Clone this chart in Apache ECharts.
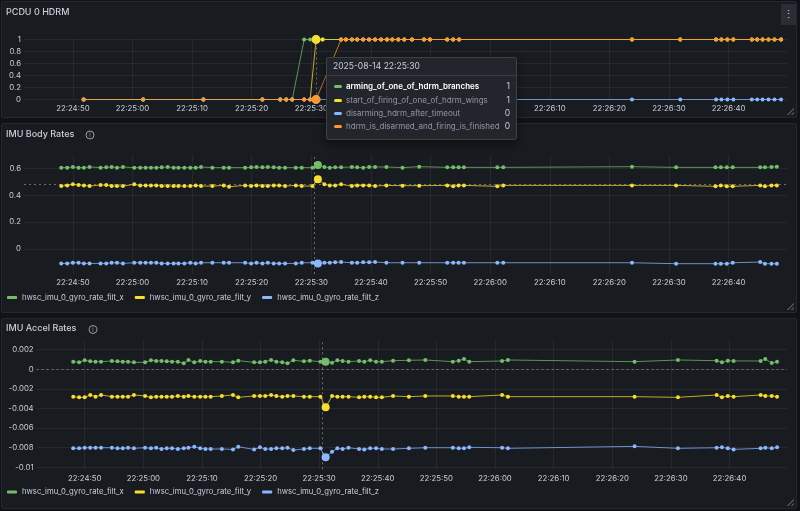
<!DOCTYPE html>
<html>
<head>
<meta charset="utf-8">
<title>PCDU 0 HDRM / IMU rates</title>
<script src="https://cdn.jsdelivr.net/npm/echarts@6/dist/echarts.min.js"></script>
<style>
  html, body { margin: 0; padding: 0; background: #111217; }
  #wrap { position: relative; width: 800px; height: 511px; overflow: hidden; font-family: Inter, sans-serif; }
  .panel { position: absolute; left: 1px; width: 796px; background: #181b1f; border: 1px solid #25282e; border-radius: 2px; box-sizing: border-box; }
  #p1 { top: 1px; height: 117px; }
  #p2 { top: 123px; height: 190px; }
  #p3 { top: 318px; height: 191px; }
  .menu { position: absolute; right: 0; top: 2px; width: 15px; height: 21px; background: #2a2d33; color: #ccccdc; font-size: 11px; line-height: 21px; text-align: center; }
  .grip { position: absolute; right: 2px; bottom: 2px; width: 7px; height: 7px;
    background: linear-gradient(135deg, transparent 48%, #4a4d55 48%, #4a4d55 58%, transparent 58%, transparent 76%, #4a4d55 76%, #4a4d55 86%, transparent 86%); }
  #chart { position: absolute; left: 0; top: 0; width: 800px; height: 511px; }
</style>
</head>
<body>
<div id="wrap">
  <div class="panel" id="p1"><div class="menu">&#8942;</div><div class="grip"></div></div>
  <div class="panel" id="p2"><div class="grip"></div></div>
  <div class="panel" id="p3"><div class="grip"></div></div>
  <div id="chart"></div>
</div>
<script>
// time is stored as seconds after 2025-08-14 22:24:50
var baseTime = new Date(2025, 7, 14, 22, 24, 50).getTime();
var axisStart = -8.2;
var axisEnd = 119.8;

// PCDU 0 HDRM states
var hdrmNames = ['arming_of_one_of_hdrm_branches', 'start_of_firing_of_one_of_hdrm_wings',
  'disarming_hdrm_after_timeout', 'hdrm_is_disarmed_and_firing_is_finished'];
var hdrmTimes = [1.8, 11.8, 21.9, 31.8, 34.8, 35.8, 36.8, 38.8, 39.8, 40.8, 41.9,
  45.0, 45.8, 46.8, 47.7, 48.7, 49.7, 50.7, 51.7, 52.7, 53.6, 54.6, 55.6, 56.9, 58.9, 59.9,
  62.8, 63.8, 64.8, 93.8, 101.9, 107.9, 108.8, 109.8, 110.8, 113.9, 114.8, 115.7, 116.7, 117.7, 118.8];
var armingBranches = [0, 0, 0, 0, 0, 0, 0, 1, 1, 1, 1,
  1, 1, 1, 1, 1, 1, 1, 1, 1, 1, 1, 1, 1, 1, 1,
  1, 1, 1, 1, 1, 1, 1, 1, 1, 1, 1, 1, 1, 1, 1];
var startFiring = [0, 0, 0, 0, 0, 0, 0, 0, 0, 1, 1,
  1, 1, 1, 1, 1, 1, 1, 1, 1, 1, 1, 1, 1, 1, 1,
  1, 1, 1, 1, 1, 1, 1, 1, 1, 1, 1, 1, 1, 1, 1];
var disarmingTimeout = [0, 0, 0, 0, 0, 0, 0, 0, 0, 0, null,
  0, 0, 0, 0, 0, 0, 0, 0, 0, 0, 0, 0, 0, 0, 0,
  0, 0, 0, 0, 0, 0, 0, 0, 0, 0, 0, 0, 0, 0, 0];
var disarmedFinished = [0, 0, 0, 0, 0, 0, 0, 0, 0, 0, null,
  1, 1, 1, 1, 1, 1, 1, 1, 1, 1, 1, 1, 1, 1, 1,
  1, 1, 1, 1, 1, 1, 1, 1, 1, 1, 1, 1, 1, 1, 1];
var hdrmHover = 9;
var hdrmFocus = 0;

// IMU samples
var imuNames = ['hwsc_imu_0_gyro_rate_filt_x', 'hwsc_imu_0_gyro_rate_filt_y', 'hwsc_imu_0_gyro_rate_filt_z'];
var imuTimes = [-1.95, -0.95, 0, 0.95, 1.85, 2.8, 4.64, 5.6, 6.5, 7.4, 8.4,
  10.3, 11.3, 12.2, 13.1, 14.0, 14.9, 15.9, 16.9, 17.7, 18.7, 19.7, 20.6, 21.5,
  23.4, 25.3, 26.2, 28.9, 29.9, 30.8, 31.8, 32.7, 33.7, 34.6, 35.6, 37.4, 38.4,
  40.2, 41.1, 42.2, 43.1, 44.0, 45.0, 46.8, 47.7, 48.7, 49.7, 50.7, 52.6,
  55.3, 58.1, 62.8, 63.8, 64.7, 65.6, 71.2, 72.2, 93.8, 101.2,
  107.8, 108.7, 109.7, 110.7, 115.3, 116.1, 117.2, 118.1];
var imuHover = 38;
var crossTime = 40.5;

var bodyRateX = [0.605, 0.605, 0.610, 0.605, 0.605, 0.610, 0.605, 0.607, 0.610, 0.605, 0.610,
  0.605, 0.605, 0.605, 0.605, 0.605, 0.607, 0.610, 0.605, 0.605, 0.605, 0.605, 0.605, 0.610,
  0.605, 0.605, 0.605, 0.605, 0.607, 0.610, 0.607, 0.610, 0.607, 0.605, 0.605, 0.605, 0.605,
  0.605, 0.625, 0.610, 0.605, 0.607, 0.607, 0.610, 0.607, 0.605, 0.610, 0.610, 0.610,
  0.605, 0.612, 0.607, 0.607, 0.607, 0.607, 0.607, 0.607, 0.612, 0.607,
  0.607, 0.607, 0.607, 0.607, 0.607, 0.607, 0.610, 0.612];
var bodyRateY = [0.468, 0.473, 0.481, 0.476, 0.473, 0.468, 0.476, 0.476, 0.468, 0.468, 0.468,
  0.481, 0.473, 0.473, 0.473, 0.473, 0.468, 0.468, 0.468, 0.468, 0.468, 0.468, 0.473, 0.468,
  0.468, 0.473, 0.463, 0.473, 0.468, 0.473, 0.468, 0.468, 0.473, 0.473, 0.468, 0.473, 0.468,
  0.468, 0.518, 0.481, 0.473, 0.473, 0.481, 0.468, 0.473, 0.473, 0.473, 0.468, 0.473,
  0.471, 0.471, 0.473, 0.466, 0.473, 0.473, 0.466, 0.473, 0.473, 0.473,
  0.466, 0.473, 0.466, 0.466, 0.473, 0.466, 0.473, 0.473];
var bodyRateZ = [-0.107, -0.107, -0.102, -0.102, -0.107, -0.107, -0.107, -0.107, -0.102, -0.102, -0.107,
  -0.102, -0.102, -0.102, -0.102, -0.102, -0.107, -0.107, -0.107, -0.107, -0.107, -0.102, -0.107, -0.102,
  -0.102, -0.102, -0.102, -0.102, -0.107, -0.102, -0.107, -0.102, -0.107, -0.107, -0.107, -0.107, -0.102,
  -0.102, -0.107, -0.102, -0.102, -0.099, -0.097, -0.102, -0.102, -0.099, -0.099, -0.097, -0.102,
  -0.102, -0.102, -0.102, -0.102, -0.102, -0.102, -0.102, -0.102, -0.102, -0.109,
  -0.109, -0.109, -0.109, -0.102, -0.097, -0.109, -0.109, -0.109];
var bodyCrossY = 0.476;

var accelRateX = [0.00078, 0.00071, 0.00092, 0.00081, 0.00078, 0.00078, 0.00085, 0.00081, 0.00078, 0.00078, 0.00071,
  0.00071, 0.00092, 0.00085, 0.00085, 0.00081, 0.00078, 0.00078, 0.00061, 0.00095, 0.00071, 0.00085, 0.00078, 0.00078,
  0.00078, 0.00071, 0.00088, 0.00071, 0.00071, 0.00078, 0.00095, 0.00078, 0.00071, 0.00061, 0.00092, 0.00081, 0.00088,
  0.00078, 0.00078, 0.00068, 0.00092, 0.00085, 0.00078, 0.00085, 0.00078, 0.00092, 0.00078, 0.00078, 0.00088,
  0.00092, 0.00095, 0.00078, 0.00088, 0.00105, 0.00078, 0.00085, 0.00095, 0.00078, 0.00095,
  0.00088, 0.00071, 0.00088, 0.00085, 0.00085, 0.00105, 0.00064, 0.00078];
var accelRateY = [-0.00279, -0.00286, -0.00286, -0.00262, -0.00279, -0.00262, -0.00279, -0.00279, -0.00279, -0.00279, -0.00262,
  -0.00272, -0.00286, -0.00279, -0.00279, -0.00279, -0.00279, -0.00272, -0.00279, -0.00272, -0.00279, -0.00279, -0.00279, -0.00279,
  -0.00272, -0.00262, -0.00286, -0.00272, -0.00272, -0.00272, -0.00262, -0.00272, -0.00279, -0.00272, -0.00272, -0.00279, -0.00279,
  -0.00279, -0.00388, -0.00272, -0.00279, -0.00279, -0.00279, -0.00286, -0.00279, -0.00279, -0.00286, -0.00286, -0.00272,
  -0.00279, -0.00272, -0.00272, -0.00279, -0.00279, -0.00279, -0.00262, -0.00279, -0.00279, -0.00286,
  -0.00262, -0.00286, -0.00272, -0.00279, -0.00262, -0.00272, -0.00272, -0.00279];
var accelRateZ = [-0.00806, -0.00806, -0.00800, -0.00800, -0.00800, -0.00800, -0.00800, -0.00806, -0.00806, -0.00800, -0.00806,
  -0.00800, -0.00806, -0.00800, -0.00813, -0.00806, -0.00806, -0.00813, -0.00806, -0.00800, -0.00790, -0.00806, -0.00813, -0.00813,
  -0.00813, -0.00817, -0.00790, -0.00817, -0.00796, -0.00813, -0.00813, -0.00806, -0.00806, -0.00800, -0.00823, -0.00813, -0.00806,
  -0.00806, -0.00898, -0.00840, -0.00806, -0.00813, -0.00800, -0.00813, -0.00817, -0.00806, -0.00806, -0.00813, -0.00813,
  -0.00806, -0.00800, -0.00800, -0.00806, -0.00806, -0.00796, -0.00800, -0.00806, -0.00786, -0.00806,
  -0.00800, -0.00796, -0.00806, -0.00817, -0.00806, -0.00800, -0.00806, -0.00796];
var accelCrossY = -0.001;

var colors = ['#73bf69', '#fade2a', '#8ab8ff', '#ff9830'];
var textColor = '#ccccdc';
var gridColor = 'rgba(204,204,220,0.08)';
var font = 'Inter, sans-serif';
var labelSize = 7.8;

function pad(n) {
	return n < 10 ? '0' + n : '' + n;
}
function clock(sec) {
	var d = new Date(baseTime + Math.floor(sec + 1e-6) * 1000);
	return pad(d.getHours()) + ':' + pad(d.getMinutes()) + ':' + pad(d.getSeconds());
}
function stamp(sec) {
	var d = new Date(baseTime + Math.floor(sec + 1e-6) * 1000);
	return d.getFullYear() + '-' + pad(d.getMonth() + 1) + '-' + pad(d.getDate()) + ' ' + clock(sec);
}

function points(times, vals, hover) {
	return times.map(function(t, i) {
		var item = { value: [t, vals[i]] };
		if (i === hover) {
			item.symbolSize = 8;
		}
		return item;
	});
}

function line(name, color, idx, times, vals, hover) {
	return {
		name: name,
		type: 'line',
		xAxisIndex: idx,
		yAxisIndex: idx,
		data: points(times, vals, hover),
		symbol: 'circle',
		symbolSize: 4,
		showSymbol: true,
		showAllSymbol: true,
		connectNulls: true,
		clip: false,
		itemStyle: { color: color },
		lineStyle: { color: color, width: 1, opacity: 0.75 },
		emphasis: { disabled: true },
		animation: false
	};
}

function crossLines(yValue) {
	return {
		silent: true,
		symbol: 'none',
		animation: false,
		label: { show: false },
		lineStyle: { color: 'rgba(204,204,220,0.45)', width: 1, type: [2, 3] },
		data: [{ xAxis: crossTime }, { yAxis: yValue }]
	};
}

function xAxis(idx) {
	return {
		type: 'value',
		gridIndex: idx,
		min: axisStart,
		max: axisEnd,
		splitNumber: 12,
		axisLine: { show: false },
		axisTick: { show: false },
		axisLabel: {
			color: textColor, fontSize: labelSize, fontFamily: font, margin: 5,
			showMinLabel: false, showMaxLabel: false,
			formatter: function(v) { return clock(v); }
		},
		splitLine: { show: true, showMinLine: false, showMaxLine: false, lineStyle: { color: gridColor } }
	};
}

function yAxis(idx, extra) {
	var axis = {
		type: 'value',
		gridIndex: idx,
		axisLine: { show: false },
		axisTick: { show: false },
		axisLabel: { color: textColor, fontSize: labelSize, fontFamily: font, margin: 3 },
		splitLine: { show: true, lineStyle: { color: gridColor } }
	};
	for (var k in extra) {
		axis[k] = extra[k];
	}
	return axis;
}

function tipFormatter(params) {
	var html = '<div style="width:189px;font-family:Inter,sans-serif;font-size:8px;">' +
		'<div style="line-height:17px;font-size:8.5px;padding:0 6px;color:#ccccdc;border-bottom:1px solid rgba(204,204,220,0.12);">' +
		stamp(params[0].value[0]) + '</div><div style="padding:4px 6px 5px 7px;">';
	params.forEach(function(p, i) {
		var focus = i === hdrmFocus;
		html += '<div style="display:flex;align-items:center;height:13.4px;white-space:nowrap;">' +
			'<span style="flex:none;width:8px;height:3px;border-radius:1.5px;margin-right:4px;background:' + p.color + ';"></span>' +
			'<span style="flex:1;color:' + (focus ? '#ffffff' : 'rgba(204,204,220,0.65)') + ';font-weight:' + (focus ? 600 : 400) + ';">' + p.seriesName + '</span>' +
			'<span style="flex:none;color:#ccccdc;font-size:8.5px;">' + p.value[1] + '</span></div>';
	});
	return html + '</div></div>';
}

var titleStyle = { color: textColor, fontSize: 9, fontWeight: 500, fontFamily: font };
var legendBase = {
	icon: 'roundRect', itemWidth: 10, itemHeight: 3, itemGap: 11, padding: 0,
	selectedMode: false,
	textStyle: { color: textColor, fontSize: 7.7, fontFamily: font }
};
function legend(top) {
	var l = { data: imuNames, left: 7, top: top };
	for (var k in legendBase) {
		l[k] = legendBase[k];
	}
	return l;
}
function infoIcon(x, y) {
	return {
		type: 'group', x: x, y: y, silent: true,
		children: [
			{ type: 'circle', shape: { cx: 0, cy: 0, r: 4 }, style: { fill: 'none', stroke: '#9a9ca5', lineWidth: 1 } },
			{ type: 'text', style: { text: 'i', x: 0, y: 0.5, fill: '#9a9ca5', fontSize: 6, fontFamily: font, align: 'center', verticalAlign: 'middle' } }
		]
	};
}

var body = [line(imuNames[0], colors[0], 1, imuTimes, bodyRateX, imuHover),
	line(imuNames[1], colors[1], 1, imuTimes, bodyRateY, imuHover),
	line(imuNames[2], colors[2], 1, imuTimes, bodyRateZ, imuHover)];
body[0].markLine = crossLines(bodyCrossY);
var accel = [line(imuNames[0], colors[0], 2, imuTimes, accelRateX, imuHover),
	line(imuNames[1], colors[1], 2, imuTimes, accelRateY, imuHover),
	line(imuNames[2], colors[2], 2, imuTimes, accelRateZ, imuHover)];
accel[0].markLine = crossLines(accelCrossY);

var option = {
	animation: false,
	backgroundColor: 'transparent',
	textStyle: { fontFamily: font },
	title: [
		{ text: 'PCDU 0 HDRM', left: 6, top: 7.5, padding: 0, textStyle: titleStyle },
		{ text: 'IMU Body Rates', left: 6, top: 129.5, padding: 0, textStyle: titleStyle },
		{ text: 'IMU Accel Rates', left: 6, top: 324, padding: 0, textStyle: titleStyle }
	],
	legend: [legend(293.5), legend(488)],
	graphic: [infoIcon(90, 135), infoIcon(93, 329.5)],
	tooltip: {
		trigger: 'axis',
		triggerOn: 'none',
		alwaysShowContent: true,
		transitionDuration: 0,
		confine: false,
		position: [326, 57],
		padding: 0,
		backgroundColor: '#22252b',
		borderColor: 'rgba(204,204,220,0.16)',
		borderWidth: 1,
		extraCssText: 'border-radius:3px;box-shadow:0 4px 8px rgba(0,0,0,0.45);',
		formatter: tipFormatter,
		axisPointer: {
			type: 'line',
			animation: false,
			lineStyle: { color: 'rgba(204,204,220,0.45)', width: 1, type: [2, 3] }
		}
	},
	grid: [
		{ left: 24, right: 13, top: 39.5, height: 60 },
		{ left: 24, right: 13, top: 154.85, height: 119.2 },
		{ left: 36.6, right: 13, top: 339.9, height: 129.4 }
	],
	xAxis: [xAxis(0), xAxis(1), xAxis(2)],
	yAxis: [
		yAxis(0, { min: 0, max: 1, interval: 0.2 }),
		yAxis(1, { min: -0.186, max: 0.7, splitNumber: 5,
			axisLabel: { color: textColor, fontSize: labelSize, fontFamily: font, margin: 3, showMinLabel: false, showMaxLabel: false },
			splitLine: { show: true, showMinLine: false, showMaxLine: false, lineStyle: { color: gridColor } } }),
		yAxis(2, { min: -0.0102, max: 0.003, splitNumber: 7,
			axisLabel: { color: textColor, fontSize: labelSize, fontFamily: font, margin: 3, showMinLabel: false, showMaxLabel: false },
			splitLine: { show: true, showMinLine: false, showMaxLine: false, lineStyle: { color: gridColor } } })
	],
	series: [
		line(hdrmNames[0], colors[0], 0, hdrmTimes, armingBranches, hdrmHover),
		line(hdrmNames[1], colors[1], 0, hdrmTimes, startFiring, hdrmHover),
		line(hdrmNames[2], colors[2], 0, hdrmTimes, disarmingTimeout, hdrmHover),
		line(hdrmNames[3], colors[3], 0, hdrmTimes, disarmedFinished, hdrmHover)
	].concat(body, accel)
};

var chart = echarts.init(document.getElementById('chart'));
chart.setOption(option);
chart.dispatchAction({ type: 'showTip', seriesIndex: 0, dataIndex: hdrmHover });
</script>
</body>
</html>
